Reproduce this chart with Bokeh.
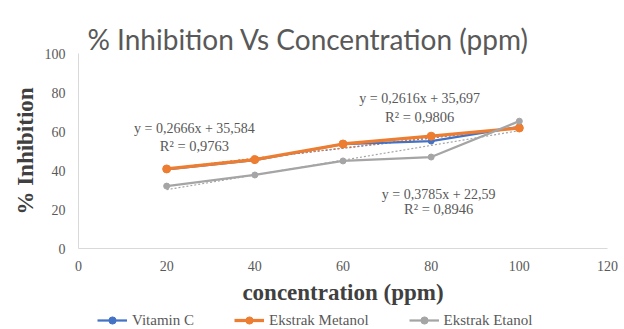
from bokeh.plotting import figure
from bokeh.layouts import column
from bokeh.models import Range1d, FixedTicker, Legend, LegendItem, ColumnDataSource
from bokeh.core.properties import value
from bokeh.embed import file_html
from bokeh.resources import INLINE

# ---- data ----
concentration = [20, 40, 60, 80, 100]
vitamin_c = [40.6, 45.3, 53.5, 55.1, 62.4]
ekstrak_metanol = [40.8, 45.6, 53.6, 57.6, 61.8]
ekstrak_etanol = [32.0, 37.7, 44.9, 46.9, 65.3]
series_names = ["Vitamin C", "Ekstrak Metanol", "Ekstrak Etanol"]
series_colors = ["#4472C4", "#ED7D31", "#A5A5A5"]
trend_slopes = [0.2616, 0.2666, 0.3785]
trend_intercepts = [35.697, 35.584, 22.59]
eq_texts = ["y = 0,2616x + 35,697", "y = 0,2666x + 35,584", "y = 0,3785x + 22,59"]
r2_texts = ["R² = 0,9806", "R² = 0,9763", "R² = 0,8946"]
eq_x = [77.4, 26.3, 81.7]
eq_y = [76.7, 61.3, 27.9]
r2_y = [67.4, 52.6, 20.3]
x_ticks = [0, 20, 40, 60, 80, 100, 120]
y_ticks = [0, 20, 40, 60, 80, 100]

p = figure(width=624, height=310, output_backend="svg", toolbar_location=None,
           x_range=Range1d(0, 120), y_range=Range1d(0, 100),
           min_border_left=78, min_border_right=17, min_border_top=53, min_border_bottom=62)
p.outline_line_color = None
p.xgrid.visible = False
p.ygrid.visible = False

p.title.text = "% Inhibition Vs Concentration (ppm)"
p.title.align = "left"
p.title.offset = 9
p.title.standoff = -5
p.title.text_font = "Lato"
p.title.text_font_size = "28px"
p.title.text_font_style = "normal"
p.title.text_color = "#595959"

for ax, ticks in ((p.xaxis, x_ticks), (p.yaxis, y_ticks)):
    ax.ticker = FixedTicker(ticks=ticks)
    ax.major_tick_out = 0
    ax.major_tick_in = 0
    ax.minor_tick_out = 0
    ax.minor_tick_in = 0
    ax.axis_line_color = "#d9d9d9"
    ax.major_label_text_font = "Liberation Serif"
    ax.major_label_text_font_size = "14px"
    ax.major_label_text_color = "#595959"
    ax.axis_label_text_font = "Liberation Serif"
    ax.axis_label_text_font_style = "bold"
    ax.axis_label_text_font_size = "23px"
    ax.axis_label_text_color = "#404040"

p.xaxis.axis_label = "concentration (ppm)"
p.yaxis.axis_label = "% Inhibition"
p.xaxis.major_label_standoff = 12
p.yaxis.major_label_standoff = 13
p.xaxis.axis_label_standoff = 6
p.yaxis.axis_label_standoff = 4

series = [vitamin_c, ekstrak_metanol, ekstrak_etanol]
widths = [2.25, 3.25, 2.25]
sizes = [6, 8, 6]

# trendlines
for slope, icpt, col in zip(trend_slopes, trend_intercepts, series_colors):
    xs = [concentration[0], concentration[-1]]
    ys = [slope * x + icpt for x in xs]
    p.line(xs, ys, line_color=col, line_width=1.2, line_dash="2 2")

for vals, col, w, s in zip(series, series_colors, widths, sizes):
    src = ColumnDataSource(dict(x=concentration, y=vals))
    p.line("x", "y", source=src, line_color=col, line_width=w)
    p.scatter("x", "y", source=src, marker="circle", size=s, fill_color=col, line_color=col)

# equation labels
p.text(x=eq_x, y=eq_y, text=eq_texts, text_font=value("Liberation Serif"),
       text_font_size="14px", text_color="#595959", text_align="center", text_baseline="middle")
p.text(x=eq_x, y=r2_y, text=r2_texts, text_font=value("Liberation Serif"),
       text_font_size="14.5px", text_color="#595959", text_align="center", text_baseline="middle")

# legend strip below the chart (same horizontal frame as the chart)
lg = figure(width=624, height=19, output_backend="svg", toolbar_location=None,
            x_range=Range1d(0, 1), y_range=Range1d(0, 1),
            x_axis_location=None, y_axis_location=None,
            min_border_left=78, min_border_right=17, min_border_top=0, min_border_bottom=0)
lg.outline_line_color = None
lg.xgrid.visible = False
lg.ygrid.visible = False
items = []
for name, col, w, s in zip(series_names, series_colors, widths, sizes):
    # keyed off-screen so only the legend swatch shows
    src = ColumnDataSource(dict(x=[-10, -9], y=[-10, -9]))
    ln = lg.line("x", "y", source=src, line_color=col, line_width=w)
    sc = lg.scatter("x", "y", source=src, marker="circle", size=s - 2, fill_color=col, line_color=col)
    items.append(LegendItem(label=name, renderers=[ln, sc]))
legend = Legend(items=items, orientation="horizontal", location=(19, 0),
                label_text_font="Liberation Serif", label_text_font_size="15px",
                label_text_color="#595959", glyph_width=30, glyph_height=18,
                label_standoff=5, spacing=40, padding=0, margin=0,
                border_line_color=None, background_fill_alpha=0)
lg.add_layout(legend, "center")

layout = column(p, lg, spacing=0)
open("out.html", "w").write(file_html(layout, INLINE))
